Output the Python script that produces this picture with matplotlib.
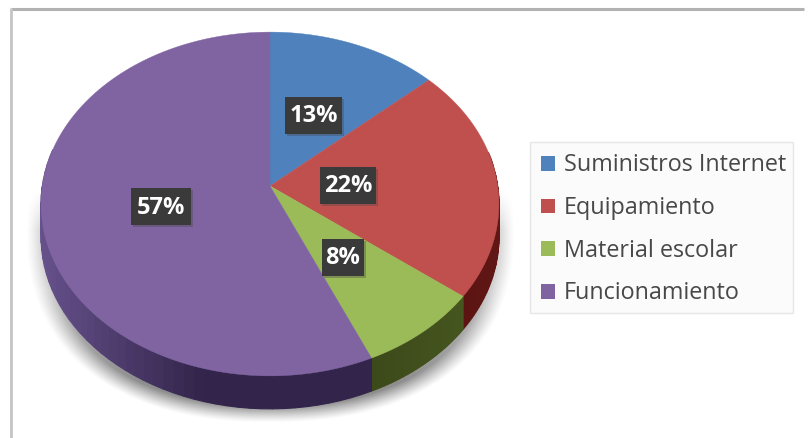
import numpy as np
import matplotlib
matplotlib.use("Agg")
import matplotlib.pyplot as plt
from matplotlib.colors import to_rgb
from matplotlib.patches import Rectangle, Patch

categories = ["Suministros Internet", "Equipamiento", "Material escolar", "Funcionamiento"]
values = [13.4, 22.0, 8.0, 56.6]
labels = ["13%", "22%", "8%", "57%"]
colors = ["#4f81bd", "#c0504d", "#9bbb59", "#8064a2"]
wall_light = ["#2f4d70", "#6e1c1a", "#46561f", "#65508a"]
wall_dark = ["#2f4d70", "#5c1412", "#3c4a1a", "#32244a"]
label_pos = [(314, 115), (348, 185), (343, 257), (161, 206)]
label_w = [57, 56, 42, 60]

CX, CY, A, B, K, DEPTH = 270, 186, 227.7, 170, 0.1047, 33


def project(theta):
    X, Y = np.sin(theta), np.cos(theta)
    w = 1 + K * Y
    return CX + A * X / w, CY - B * Y / w


fig = plt.figure(figsize=(8.09, 4.38), dpi=100, facecolor="white")
ax = fig.add_axes([0, 0, 1, 1])
ax.set_xlim(0, 809)
ax.set_ylim(438, 0)
ax.axis("off")

# chart frame: only the top and left rules are visible
ax.plot([11, 804], [8.5, 8.5], color="#b2b2b2", lw=2.2, zorder=0, solid_capstyle="butt")
ax.plot([11.5, 11.5], [8, 438], color="#c4c4c4", lw=2.0, zorder=0, solid_capstyle="butt")

# soft shadow under the disc
gx, gy = np.meshgrid(np.arange(20, 525), np.arange(170, 430))
r = ((np.abs(gx - 270) / 244.0) ** 2.3 + (np.abs(gy - 232) / 190.0) ** 2.3) ** (1 / 2.3)
edge = np.clip((1 - r) / 0.085, 0, 1)
fade = 0.55 + 0.45 * np.clip((gy - 290) / 90.0, 0, 1)
fade = fade * np.clip((gy - 190) / 40.0, 0, 1)
shadow = np.zeros(gx.shape + (4,))
shadow[..., :3] = 0.45
shadow[..., 3] = edge ** 1.2 * fade * 0.8
ax.imshow(shadow, extent=(20, 525, 430, 170), zorder=1, aspect="auto", interpolation="bilinear")
ax.set_xlim(0, 809)
ax.set_ylim(438, 0)

# side wall, then top faces
edges = 2 * np.pi * np.cumsum([0] + values) / sum(values)
for i in range(len(values)):
    steps = np.linspace(edges[i], edges[i + 1], 80)
    for a0, a1 in zip(steps[:-1], steps[1:]):
        mid = (a0 + a1) / 2
        if np.cos(mid) > 0.2:
            continue
        x0, y0 = project(a0)
        x1, y1 = project(a1)
        f = np.clip((x0 - 45) / 165.0, 0, 1) if i == 3 else (a0 - edges[i]) / (edges[i + 1] - edges[i])
        c0, c1 = np.array(to_rgb(wall_light[i])), np.array(to_rgb(wall_dark[i]))
        ax.fill([x0, x1, x1, x0], [y0, y1, y1 + DEPTH, y0 + DEPTH],
                color=c0 + (c1 - c0) * f, lw=0.8, zorder=2)

for i in range(len(values)):
    th = np.linspace(edges[i], edges[i + 1], 200)
    x, y = project(th)
    ax.fill(np.r_[CX, x], np.r_[CY, y], color=colors[i], lw=0.3, zorder=3)

# data labels
for txt, (lx, ly), w in zip(labels, label_pos, label_w):
    h = 37
    ax.add_patch(Rectangle((lx - w / 2 + 2, ly - h / 2 + 2), w, h, fc="#444444", ec="none", alpha=0.35, zorder=4))
    ax.add_patch(Rectangle((lx - w / 2, ly - h / 2), w, h, fc="#3a3a3a", ec="none", zorder=5))
    ax.text(lx, ly + 1.5, txt, color="white", fontsize=17, fontweight="bold", family="Open Sans",
            ha="center", va="center", zorder=6)

ax.add_patch(Rectangle((530.5, 141.5), 263, 171, fc="#fbfbfb", ec="#e6e6e6", lw=1, zorder=6))
handles = [Patch(fc=c, ec="none") for c in colors]
leg = ax.legend(handles, categories, loc="upper left", bbox_to_anchor=(530 / 809, 1 - 142.5 / 438),
                bbox_transform=ax.transAxes, prop={"family": "Open Sans", "size": 16.8}, labelcolor="#484848",
                frameon=False,
                handlelength=0.6, handleheight=0.6, handletextpad=0.39, labelspacing=0.8,
                borderpad=0.47, borderaxespad=0)
leg.set_zorder(7)
fig.savefig("out.png", dpi=100)
